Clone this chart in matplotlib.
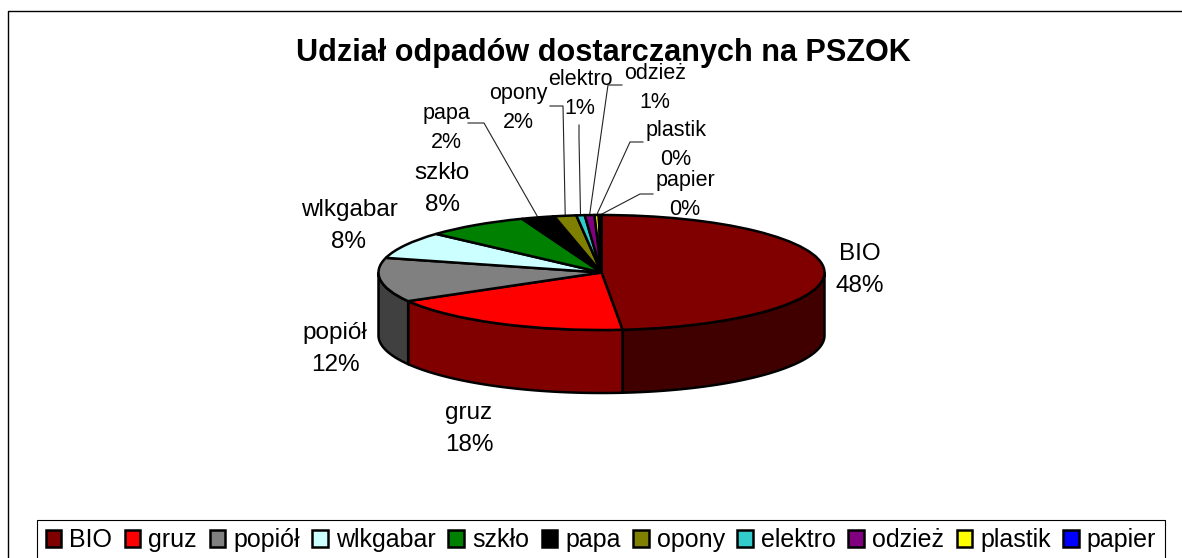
import numpy as np
import matplotlib
matplotlib.use('Agg')
import matplotlib.pyplot as plt
from matplotlib.patches import Polygon

plt.rcParams['font.family'] = ['Liberation Sans', 'DejaVu Sans']

title = 'Udział odpadów dostarczanych na PSZOK'
names = ['BIO', 'gruz', 'popiół', 'wlkgabar', 'szkło', 'papa', 'opony', 'elektro', 'odzież', 'plastik', 'papier']
shares = [48.5, 18.2, 12.4, 7.6, 7.5, 2.4, 1.6, 0.6, 0.7, 0.3, 0.2]
colors = ['#800000', '#ff0000', '#808080', '#ccffff', '#008000', '#000000', '#808000', '#33cccc', '#800080', '#ffff00', '#0000ff']

W, H = 1182, 558
# ellipse of the top face, in pixels
cx, cy, a, b = 601.5, 272.5, 223, 57.5
depth = 63 / b

# label centres and sizes in pixels, one per slice
label_xy = [(860, 270), (469, 429), (335, 349), (349, 226), (442, 189), (446, 128),
            (518, 108), (580, 94), (655, 88), (676, 145), (685, 195)]
label_size = [17.5, 17.5, 17.5, 17.5, 17.5, 15.5, 15.5, 15.5, 15.5, 15.5, 15.5]
label_gap = [1.6, 1.6, 1.6, 1.6, 1.6, 1.5, 1.5, 1.5, 1.5, 1.5, 1.5]
# leader elbows, from the label side to the pie
leaders = {5: [(468, 123), (484, 123)], 6: [(550, 106), (563, 106)], 7: [(579, 125), (579, 138)],
           8: [(622, 85), (608, 85)], 9: [(643, 142), (630, 142)], 10: [(653, 194), (640, 194)]}

fig = plt.figure(figsize=(W / 100, H / 100), dpi=100)

# background axes in pixel coordinates
bg = fig.add_axes([0, 0, 1, 1])
bg.set_xlim(0, W)
bg.set_ylim(H, 0)
bg.axis('off')
bg.plot([8, 8, W], [H, 11, 11], color='black', lw=1)
bg.text(603.5, 53, title, fontsize=22.1, fontweight='bold', ha='center', va='center')

# pie axes stretched over the ellipse
ax = fig.add_axes([(cx - a) / W, 1 - (cy + b) / H, 2 * a / W, 2 * b / H])
wedges, _ = ax.pie(shares, colors=colors, startangle=90, counterclock=False,
                   wedgeprops=dict(edgecolor='black', linewidth=1.8))
for w in wedges:
    w.set_clip_on(False)
    w.set_zorder(3)
ax.set_aspect('auto')
ax.set_xlim(-1, 1)
ax.set_ylim(-1, 1)

# side wall, clockwise angle from the top
edges = np.cumsum([0] + shares) / sum(shares) * 360
for i in range(len(shares)):
    t0 = max(edges[i], 90)
    t1 = min(edges[i + 1], 270)
    if t1 <= t0:
        continue
    r, g, bl, _ = matplotlib.colors.to_rgba(colors[i])
    t = np.radians(np.linspace(t0, t1, 60))
    x = np.sin(t)
    y = np.cos(t)
    pts = np.column_stack([np.r_[x, x[::-1]], np.r_[y, y[::-1] - depth]])
    ax.add_patch(Polygon(pts, closed=True, facecolor=(r * 0.5, g * 0.5, bl * 0.5), edgecolor='black',
                         linewidth=1.8, clip_on=False, zorder=2))

# labels and leaders
for i, name in enumerate(names):
    pct = round(shares[i])
    bg.text(label_xy[i][0], label_xy[i][1], '%s\n%d%%' % (name, pct), fontsize=label_size[i],
            ha='center', va='center', linespacing=label_gap[i], zorder=5)
    if i in leaders:
        mid = np.radians((edges[i] + edges[i + 1]) / 2)
        end = (cx + a * np.sin(mid), cy - b * np.cos(mid))
        pts = leaders[i] + [end]
        bg.plot([p[0] for p in pts], [p[1] for p in pts], color='#222222', lw=0.8, zorder=5)

leg = bg.legend(wedges, names, ncol=len(names), loc='lower left', bbox_to_anchor=(37 / W, -3 / H),
                fontsize=18, frameon=True, fancybox=False, edgecolor='black', framealpha=1,
                handlelength=0.62, handleheight=0.62, handletextpad=0.32, columnspacing=0.506,
                borderpad=0.35, borderaxespad=0)
leg.get_frame().set_linewidth(0.8)

fig.savefig('out.png', dpi=100)
